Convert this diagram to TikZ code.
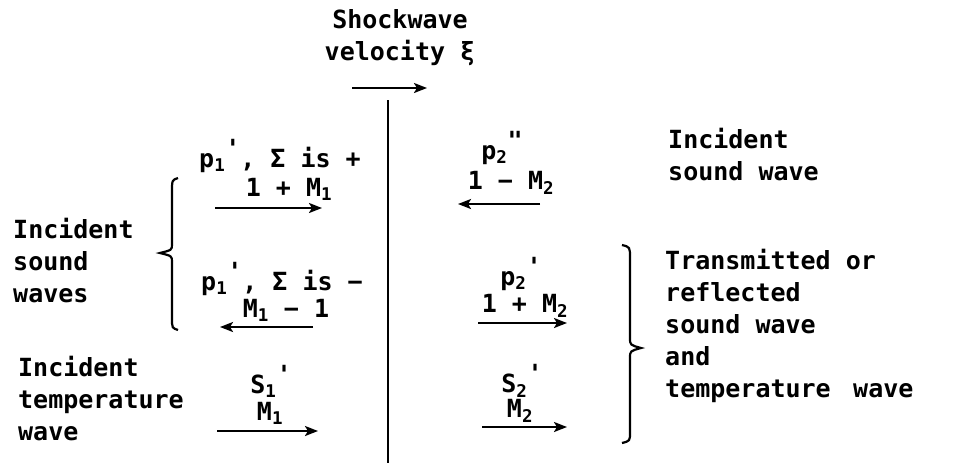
\documentclass[tikz,border=0pt]{standalone}
\usepackage{fontspec}
\setmainfont{DejaVu Sans Mono}
\newfontfamily\pfont[Ligatures=TeXOff]{DejaVu Sans Mono}
\usetikzlibrary{arrows.meta}
\newcommand\prm{{\pfont\bfseries '}}
\newcommand\dprm{{\pfont\bfseries "}}
\newcommand\wvq[3]{#1\textsubscript{#3}\raisebox{0.4em}{#2}}
\newcommand\wvm[2]{#1\textsubscript{#2}}
\tikzset{
  lbl/.style={font=\bfseries\fontsize{25}{32}\selectfont, inner sep=0pt},
  txt/.style={lbl, align=left, anchor=west},
  wave/.style={line width=2.2pt, -{Stealth[length=13pt,width=10pt,inset=3pt]}},
  shock/.style={line width=2.6pt},
  brc/.style={line width=2.2pt}
}
\begin{document}
\begin{tikzpicture}[x=1pt,y=-1pt]
\useasboundingbox (0,0) rectangle (978,467);
% shock front
\node[lbl, align=center] (sv) at (400,38) {Shockwave\\velocity ξ};
\coordinate (va) at (352,88);
\coordinate (vb) at (427,88);
\draw[wave] (va) -- (vb);
\coordinate (st) at (388,100);
\coordinate (sb) at (388,463);
\draw[shock] (st) -- (sb);
% left side, top
\node[lbl] (l1a) at (280,156) {\wvq{p}{\prm}{1}, Σ is +};
\node[lbl] (l1b) at (289,189) {1 + \wvm{M}{1}};
\coordinate (a1s) at (215,208); \coordinate (a1e) at (322,208);
\draw[wave] (a1s) -- (a1e);
% left side, middle
\node[lbl] (l2a) at (282,279) {\wvq{p}{\prm}{1}, Σ is −};
\node[lbl] (l2b) at (286,310) {\wvm{M}{1} − 1};
\coordinate (a2s) at (313,327); \coordinate (a2e) at (220,327);
\draw[wave] (a2s) -- (a2e);
% left side, bottom
\node[lbl] (l3a) at (271,381) {\wvq{S}{\prm}{1}};
\node[lbl] (l3b) at (270,413) {\wvm{M}{1}};
\coordinate (a3s) at (217,431); \coordinate (a3e) at (318,431);
\draw[wave] (a3s) -- (a3e);
% right side, top
\node[lbl] (r1a) at (502,148) {\wvq{p}{\dprm}{2}};
\node[lbl] (r1b) at (511,183) {1 − \wvm{M}{2}};
\coordinate (b1s) at (540,204); \coordinate (b1e) at (458,204);
\draw[wave] (b1s) -- (b1e);
% right side, middle
\node[lbl] (r2a) at (521,274) {\wvq{p}{\prm}{2}};
\node[lbl] (r2b) at (525,306) {1 + \wvm{M}{2}};
\coordinate (b2s) at (478,323); \coordinate (b2e) at (567,323);
\draw[wave] (b2s) -- (b2e);
% right side, bottom
\node[lbl] (r3a) at (522,381) {\wvq{S}{\prm}{2}};
\node[lbl] (r3b) at (520,411) {\wvm{M}{2}};
\coordinate (b3s) at (482,427); \coordinate (b3e) at (567,427);
\draw[wave] (b3s) -- (b3e);
% descriptive texts
\node[txt] (isw) at (13,261) {Incident\\sound\\waves};
\node[txt] (itw) at (18,399) {Incident\\temperature\\wave};
\node[txt] (isr) at (668,155) {Incident\\sound wave};
\node[txt] (trw) at (665,326) {Transmitted or\\reflected\\sound wave\\and\\temperature\hspace{0.9em}wave};
% braces
\draw[brc] (178,178) .. controls (172,180) .. (172,192) -- (172,244)
  .. controls (172,250) .. (160,253) .. controls (172,256) .. (172,262)
  -- (172,318) .. controls (172,328) .. (178,330);
\draw[brc] (622,245) .. controls (630,247) .. (630,258) -- (630,338)
  .. controls (630,345) .. (641,348) .. controls (630,351) .. (630,358)
  -- (630,432) .. controls (630,441) .. (622,443);
\end{tikzpicture}
\end{document}
